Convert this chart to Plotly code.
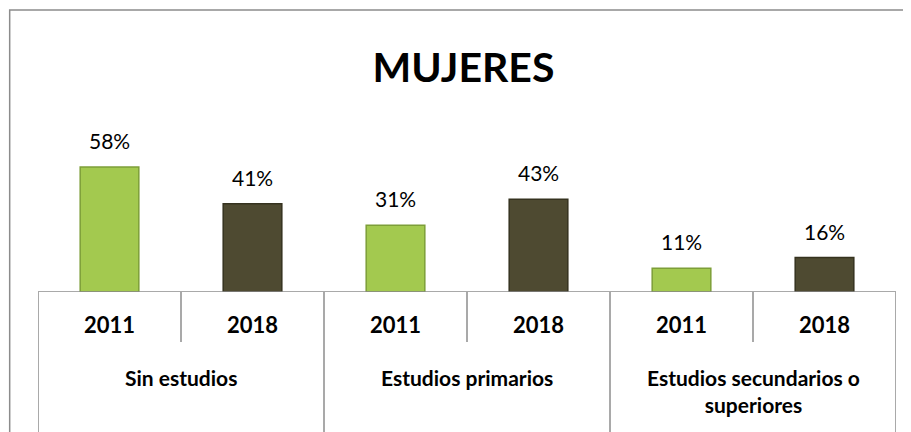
import plotly.graph_objects as go

# data
groups = ["Sin estudios", "Estudios primarios", "Estudios secundarios o<br>superiores"]
years = ["2011", "2018"]
values_2011 = [0.58, 0.31, 0.11]
values_2018 = [0.41, 0.43, 0.16]

green = "#a3c94f"
olive = "#4e4a31"
grid = "#8c8c8c"
font = "Lato"

# one slot per bar: group g, year y -> position 2*g + y
xs_2011 = [2 * g for g in range(len(groups))]
xs_2018 = [2 * g + 1 for g in range(len(groups))]

fig = go.Figure()
fig.add_trace(go.Bar(
    x=xs_2011, y=values_2011, width=0.41,
    marker=dict(color=green, line=dict(color="#7d9e38", width=1.5)),
    hoverinfo="y",
))
fig.add_trace(go.Bar(
    x=xs_2018, y=values_2018, width=0.41,
    marker=dict(color=olive, line=dict(color="#35321f", width=1.5)),
    hoverinfo="y",
))

annotations = []
# data labels
for xs, vals in ((xs_2011, values_2011), (xs_2018, values_2018)):
    for x, v in zip(xs, vals):
        annotations.append(dict(
            x=x, y=v, xref="x", yref="y", text="%d%%" % round(v * 100),
            showarrow=False, yanchor="bottom", yshift=12,
            font=dict(family=font, size=21, color="#000000"),
        ))

# year row of the table-like axis
for g in range(len(groups)):
    for k, yr in enumerate(years):
        annotations.append(dict(
            x=2 * g + k, y=-0.19, xref="x", yref="paper", text="<b>%s</b>" % yr,
            showarrow=False, yanchor="middle",
            font=dict(family=font, size=22, color="#000000"),
        ))
    annotations.append(dict(
        x=2 * g + 0.5, y=-0.41, xref="x", yref="paper", text="<b>%s</b>" % groups[g],
        showarrow=False, yanchor="top",
        font=dict(family=font, size=21, color="#000000"),
    ))

shapes = []
# baseline
shapes.append(dict(type="line", xref="x", yref="y", x0=-0.5, x1=5.5, y0=0, y1=0,
                   line=dict(color=grid, width=1.5)))
# group separators run to the bottom, year separators only through the year row
for x in (-0.5, 1.5, 3.5, 5.5):
    shapes.append(dict(type="line", xref="x", yref="paper", x0=x, x1=x, y0=0, y1=-1.0,
                       line=dict(color=grid, width=1.5)))
for x in (0.5, 2.5, 4.5):
    shapes.append(dict(type="line", xref="x", yref="paper", x0=x, x1=x, y0=0, y1=-0.29,
                       line=dict(color=grid, width=1.5)))
# outer chart border
shapes.append(dict(type="rect", xref="paper", yref="paper", x0=-0.033, x1=1.2, y0=-2, y1=1.64,
                   line=dict(color="#8c8c8c", width=1.5)))

# the page body adds an 8px offset, margins account for it
fig.update_layout(
    width=911, height=432,
    margin=dict(l=30, r=23, t=112, b=148),
    paper_bgcolor="white", plot_bgcolor="white",
    showlegend=False,
    barmode="overlay",
    title=dict(text="<b>MUJERES</b>", x=0.5, xanchor="center", y=0.862, yanchor="middle",
               font=dict(family=font, size=41, color="#000000")),
    xaxis=dict(range=[-0.5, 5.5], showticklabels=False, showgrid=False, zeroline=False,
               showline=False, ticks=""),
    yaxis=dict(range=[0, 0.798], visible=False),
    annotations=annotations,
    shapes=shapes,
)

fig.write_html("out.html")
